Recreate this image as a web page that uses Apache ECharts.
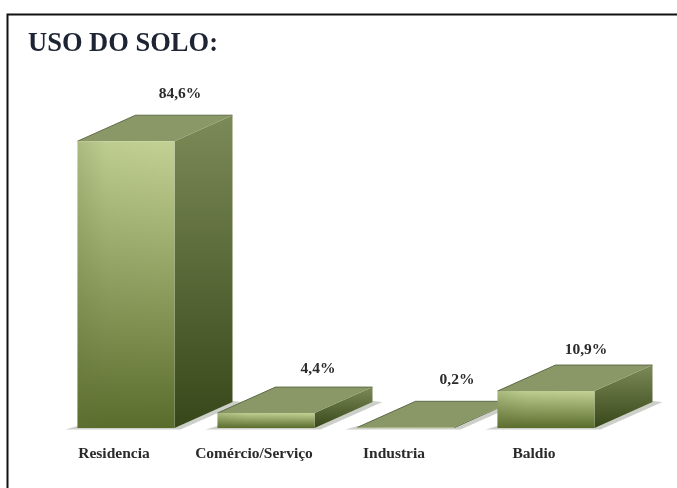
<!DOCTYPE html>
<html>
<head>
<meta charset="utf-8">
<style>html,body{margin:0;padding:0;background:#fff}#chart{width:677px;height:488px}</style>
<script src="https://cdn.jsdelivr.net/npm/echarts@6/dist/echarts.min.js"></script>
</head>
<body>
<div id="chart"></div>
<script>
// Land use shares, in percent
const categories = ['Residencia', 'Comércio/Serviço', 'Industria', 'Baldio'];
const shares = [84.6, 4.4, 0.2, 10.9];
const shareLabels = ['84,6%', '4,4%', '0,2%', '10,9%'];

// Box drawing: extrusion of each column and its shift from the band centre
const depthX = 58, depthY = 26, boxWidth = 97, boxShift = 12;
// Fine placement of the value labels relative to the back edge of each box
const labelNudgeX = [-4, -6, -7, -18];
const labelNudgeY = [-21, -18, -21, -15];

function vertical(a, b) {
  return { type: 'linear', x: 0, y: 0, x2: 0, y2: 1, colorStops: [{ offset: 0, color: a }, { offset: 1, color: b }] };
}
function horizontal(stops) {
  return { type: 'linear', x: 0, y: 0, x2: 1, y2: 0, colorStops: stops };
}

function renderBox(params, api) {
  const i = api.value(0);
  const base = api.coord([i, 0]);
  const top = api.coord([i, api.value(1)]);
  const x0 = base[0] + boxShift - boxWidth / 2;
  const x1 = x0 + boxWidth;
  const yB = base[1], yT = top[1];
  const floorShadow = {
    type: 'polygon',
    shape: { points: [[x0 - 12, yB + 1.5], [x1 + 6, yB + 1.5], [x1 + depthX + 10, yB - depthY], [x1 + depthX, yB - depthY - 1], [x1, yB - 2], [x0, yB - 2]] },
    style: { fill: 'rgba(130,135,120,0.4)' }
  };
  const front = {
    type: 'rect',
    shape: { x: x0, y: yT, width: boxWidth, height: yB - yT },
    style: { fill: vertical('#c3d294', '#5a6c2b') }
  };
  // Soft shading across the front face: duller towards the left edge
  const frontSheen = {
    type: 'rect',
    shape: { x: x0, y: yT, width: boxWidth, height: yB - yT },
    style: {
      fill: horizontal([
        { offset: 0, color: 'rgba(100,115,65,0.25)' },
        { offset: 0.3, color: 'rgba(100,115,65,0.05)' },
        { offset: 1, color: 'rgba(100,115,65,0)' }
      ])
    }
  };
  const side = {
    type: 'polygon',
    shape: { points: [[x1, yT], [x1 + depthX, yT - depthY], [x1 + depthX, yB - depthY], [x1, yB]] },
    style: { fill: vertical('#7c8a58', '#384719') }
  };
  const lid = {
    type: 'polygon',
    shape: { points: [[x0, yT], [x0 + depthX, yT - depthY], [x1 + depthX, yT - depthY], [x1, yT]] },
    style: { fill: '#8a9867' }
  };
  const backEdge = {
    type: 'polyline',
    shape: { points: [[x0, yT], [x0 + depthX, yT - depthY], [x1 + depthX, yT - depthY]] },
    style: { fill: 'none', stroke: '#5f6b48', lineWidth: 1 }
  };
  const value = {
    type: 'text',
    style: {
      text: shareLabels[i],
      x: (x0 + x1 + depthX) / 2 + labelNudgeX[i] + 29,
      y: yT - depthY + labelNudgeY[i],
      align: 'center',
      verticalAlign: 'middle',
      font: 'bold 15.5px "Liberation Serif"',
      fill: '#2a2a2a'
    }
  };
  return { type: 'group', children: [floorShadow, side, lid, backEdge, front, frontSheen, value] };
}

const chart = echarts.init(document.getElementById('chart'), null, { renderer: 'canvas' });
chart.setOption({
  animation: false,
  backgroundColor: '#ffffff',
  title: {
    text: 'USO DO SOLO:',
    left: 23,
    top: 26,
    textStyle: { fontFamily: 'Liberation Serif', fontWeight: 'bold', fontSize: 26.5, color: '#1d2433' }
  },
  grid: { left: 44, width: 560, top: 89, height: 339 },
  xAxis: {
    type: 'category',
    data: categories,
    axisLine: { show: false },
    axisTick: { show: false },
    axisLabel: {
      interval: 0,
      margin: 18,
      fontFamily: 'Liberation Serif',
      fontWeight: 'bold',
      fontSize: 15.5,
      color: '#2a2a2a'
    }
  },
  yAxis: { type: 'value', min: 0, max: 100, show: false },
  series: [{
    type: 'custom',
    renderItem: renderBox,
    clip: false,
    encode: { x: 0, y: 1 },
    data: shares.map((v, i) => [i, v])
  }],
  graphic: [{
    // Frame around the page, open at the right and bottom edges
    type: 'polyline',
    silent: true,
    shape: { points: [[7.5, 488], [7.5, 14.5], [677, 14.5]] },
    style: { fill: 'none', stroke: '#111', lineWidth: 2 }
  }]
});
</script>
</body>
</html>
